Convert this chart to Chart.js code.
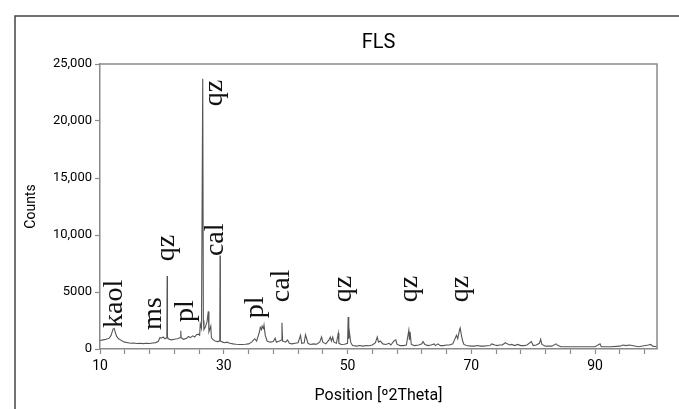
<!DOCTYPE html>
<html>
<head>
<meta charset="utf-8">
<title>FLS</title>
<script src="https://cdn.jsdelivr.net/npm/chart.js@4.4.1/dist/chart.umd.min.js"></script>
<style>
  html, body { margin: 0; padding: 0; background: #fff; }
</style>
</head>
<body>
<canvas id="xrdChart" width="679" height="409"></canvas>
<script>
// diffractogram (2theta in degrees, intensity in counts)
const twoTheta = [
  10.0, 10.5, 11.0, 11.5, 11.8, 12.1, 12.3, 12.5, 12.7, 13.0, 13.3, 13.6, 14.0, 14.5, 15.0, 15.5, 16.0, 16.5, 17.0, 17.5,
  18.0, 18.5, 19.0, 19.4, 19.7, 19.9, 20.2, 20.5, 20.8, 20.85, 20.9, 21.0, 21.5, 22.0, 22.5, 23.0, 23.05, 23.1, 23.5, 24.0,
  24.3, 24.6, 25.0, 25.3, 25.6, 25.9, 26.1, 26.2, 26.4, 26.6, 26.7, 26.8, 27.0, 27.3, 27.5, 27.6, 27.9, 28.0, 28.3, 28.6,
  29.0, 29.35, 29.4, 29.45, 29.8, 30.2, 30.5, 31.0, 31.5, 32.0, 32.5, 33.0, 33.5, 34.0, 34.5, 35.0, 35.3, 35.6, 35.8, 35.9,
  36.1, 36.2, 36.4, 36.5, 36.7, 37.0, 37.5, 38.0, 38.3, 38.5, 39.0, 39.35, 39.4, 39.5, 40.0, 40.3, 40.6, 41.0, 41.5, 42.0,
  42.4, 42.6, 43.0, 43.2, 43.4, 43.6, 44.0, 44.5, 45.0, 45.5, 45.8, 46.0, 46.5, 47.0, 47.2, 47.4, 47.6, 47.8, 48.2, 48.5,
  48.6, 49.0, 49.5, 50.0, 50.1, 50.2, 50.3, 50.5, 50.8, 51.5, 52.0, 52.5, 53.0, 53.5, 54.0, 54.5, 54.8, 55.0, 55.3, 55.7,
  56.2, 56.7, 57.0, 57.5, 57.8, 58.0, 58.5, 59.0, 59.5, 59.9, 60.0, 60.1, 60.3, 60.8, 61.5, 62.0, 62.2, 62.5, 63.0, 63.5,
  64.0, 64.2, 64.6, 65.0, 65.5, 66.0, 66.5, 67.0, 67.6, 67.8, 68.1, 68.2, 68.4, 68.6, 68.8, 69.2, 70.0, 70.5, 71.0, 71.5,
  72.0, 72.5, 73.0, 73.3, 73.8, 74.2, 74.5, 75.0, 75.5, 75.8, 76.2, 76.5, 77.0, 77.5, 78.0, 78.5, 79.0, 79.7, 80.0, 80.5,
  81.0, 81.2, 81.4, 82.0, 82.5, 83.0, 83.7, 84.0, 84.5, 86.0, 88.0, 90.0, 90.8, 91.0, 92.5, 94.0, 94.5, 95.0, 95.5, 96.0,
  97.0, 98.6, 99.0, 99.3, 100.0
];
const counts = [
  750, 800, 850, 950, 1200, 1750, 1800, 1400, 1100, 900, 800, 700, 600, 550, 500, 520, 480, 500, 470, 500,
  480, 520, 560, 650, 1000, 950, 1050, 900, 1000, 6400, 1100, 900, 800, 850, 900, 1000, 1600, 1000, 850, 950,
  1100, 1000, 1150, 1050, 1250, 1300, 1200, 2200, 1800, 23700, 2500, 1700, 1900, 2400, 3300, 1500, 2000, 1000, 800, 700,
  650, 700, 8200, 700, 600, 550, 600, 500, 450, 420, 400, 400, 420, 450, 600, 900, 700, 1200, 1600, 1900,
  1700, 2000, 1800, 2100, 1200, 700, 600, 650, 950, 600, 700, 800, 2300, 700, 600, 800, 500, 450, 500, 550,
  1200, 500, 550, 1250, 900, 500, 400, 450, 420, 600, 1050, 600, 450, 800, 1050, 700, 1050, 600, 500, 1400,
  500, 400, 420, 500, 2800, 900, 1500, 600, 300, 250, 300, 250, 300, 280, 350, 550, 1050, 600, 700, 450,
  400, 500, 350, 700, 800, 400, 300, 300, 350, 1650, 800, 1500, 400, 300, 350, 450, 650, 400, 300, 350,
  450, 300, 450, 300, 300, 350, 350, 450, 1200, 900, 1700, 1850, 1200, 700, 400, 300, 250, 250, 300, 250,
  250, 280, 300, 450, 350, 300, 350, 350, 550, 450, 350, 400, 300, 400, 300, 300, 350, 650, 300, 350,
  500, 850, 400, 250, 250, 250, 450, 300, 200, 200, 200, 200, 450, 200, 200, 250, 350, 300, 350, 300,
  200, 350, 400, 250, 200
];

// axis ticks
const xTickValues = [10, 14, 18, 22, 26, 30, 34, 38, 42, 46, 50, 54, 58, 62, 66, 70, 74, 78, 82, 86, 90, 94, 98];
const xTickLabels = ['10', '', '', '', '', '30', '', '', '', '', '50', '', '', '', '', '70', '', '', '', '', '90', '', ''];
const yTickValues = [0, 5000, 10000, 15000, 20000, 25000];
const yTickLabels = ['0', '5000', '10,000', '15,000', '20,000', '25,000'];

// phase labels (anchor in data units, text runs upward from it)
const phaseNames = ['kaol', 'ms', 'qz', 'pl', 'qz', 'cal', 'pl', 'cal', 'qz', 'qz', 'qz'];
const phaseX = [12.3, 18.6, 20.8, 23.9, 28.6, 28.7, 35.2, 39.3, 49.3, 60.1, 68.2];
const phaseY = [1850, 1670, 7700, 2370, 21300, 8150, 2700, 4100, 4100, 4100, 4100];

const axisGrey = '#8a8a8a';
const sansFont = 'Roboto, "Liberation Sans", sans-serif';

const decorPlugin = {
    id: 'decor',
    beforeDraw(chart) {
        const ctx = chart.ctx;
        ctx.save();
        ctx.fillStyle = '#fff';
        ctx.fillRect(0, 0, chart.width, chart.height);
        // outer frame, cut by the picture edge on the right and bottom
        ctx.strokeStyle = '#444';
        ctx.lineWidth = 1.5;
        ctx.strokeRect(15, 16, chart.width + 20, chart.height + 20);
        ctx.restore();
    },
    afterDatasetsDraw(chart) {
        const { ctx, chartArea, scales: { x, y } } = chart;
        ctx.save();
        ctx.strokeStyle = axisGrey;
        ctx.lineWidth = 1.5;
        ctx.beginPath();
        ctx.moveTo(chartArea.left, chartArea.top);
        ctx.lineTo(chartArea.right, chartArea.top);
        ctx.lineTo(chartArea.right, chartArea.bottom);
        ctx.stroke();

        // chart title, centred over the plot area
        ctx.fillStyle = '#000';
        ctx.font = '20px ' + sansFont;
        ctx.textAlign = 'center';
        ctx.textBaseline = 'middle';
        ctx.fillText('FLS', (chartArea.left + chartArea.right) / 2, 43);

        ctx.fillStyle = '#111';
        ctx.font = '28px "Liberation Serif", "Times New Roman", serif';
        ctx.textAlign = 'left';
        ctx.textBaseline = 'middle';
        phaseNames.forEach((name, i) => {
            ctx.save();
            ctx.translate(x.getPixelForValue(phaseX[i]), y.getPixelForValue(phaseY[i]));
            ctx.rotate(-Math.PI / 2);
            ctx.fillText(name, 0, 0);
            ctx.restore();
        });
        ctx.restore();
    }
};

const ctx = document.getElementById('xrdChart').getContext('2d');
new Chart(ctx, {
    type: 'line',
    data: {
        datasets: [{
            label: 'FLS',
            data: twoTheta.map((t, i) => ({ x: t, y: counts[i] })),
            borderColor: '#555',
            borderWidth: 1.1,
            pointRadius: 0,
            tension: 0,
            fill: false
        }]
    },
    options: {
        responsive: false,
        animation: false,
        layout: { padding: { left: 0, right: 22, top: 64, bottom: 0 } },
        plugins: {
            legend: { display: false },
            tooltip: { enabled: false },
            title: { display: false }
        },
        scales: {
            x: {
                type: 'linear',
                min: 10,
                max: 100,
                afterBuildTicks: s => { s.ticks = xTickValues.map(v => ({ value: v })); },
                afterFit: s => { s.height = 60; },
                ticks: {
                    autoSkip: false,
                    maxRotation: 0,
                    padding: 4,
                    color: '#000',
                    font: { family: sansFont, size: 14 },
                    callback: (v, i) => xTickLabels[i]
                },
                grid: { drawOnChartArea: false, drawTicks: true, tickLength: 5, tickColor: axisGrey, tickWidth: 1.2 },
                border: { display: true, color: axisGrey, width: 1.5 },
                title: {
                    display: true,
                    text: 'Position [º2Theta]',
                    color: '#000',
                    font: { family: sansFont, size: 16 },
                    padding: { top: 0, bottom: 3 }
                }
            },
            y: {
                min: 0,
                max: 25000,
                afterBuildTicks: s => { s.ticks = yTickValues.map(v => ({ value: v })); },
                afterFit: s => { s.width = 100; },
                ticks: {
                    padding: 3,
                    color: '#000',
                    font: { family: sansFont, size: 13 },
                    callback: (v, i) => yTickLabels[i]
                },
                grid: { drawOnChartArea: false, drawTicks: true, tickLength: 5, tickColor: axisGrey, tickWidth: 1.2 },
                border: { display: true, color: axisGrey, width: 1.5 },
                title: {
                    display: true,
                    text: 'Counts',
                    color: '#000',
                    font: { family: sansFont, size: 14 },
                    padding: { top: 23, bottom: 0 }
                }
            }
        }
    },
    plugins: [decorPlugin]
});
</script>
</body>
</html>
